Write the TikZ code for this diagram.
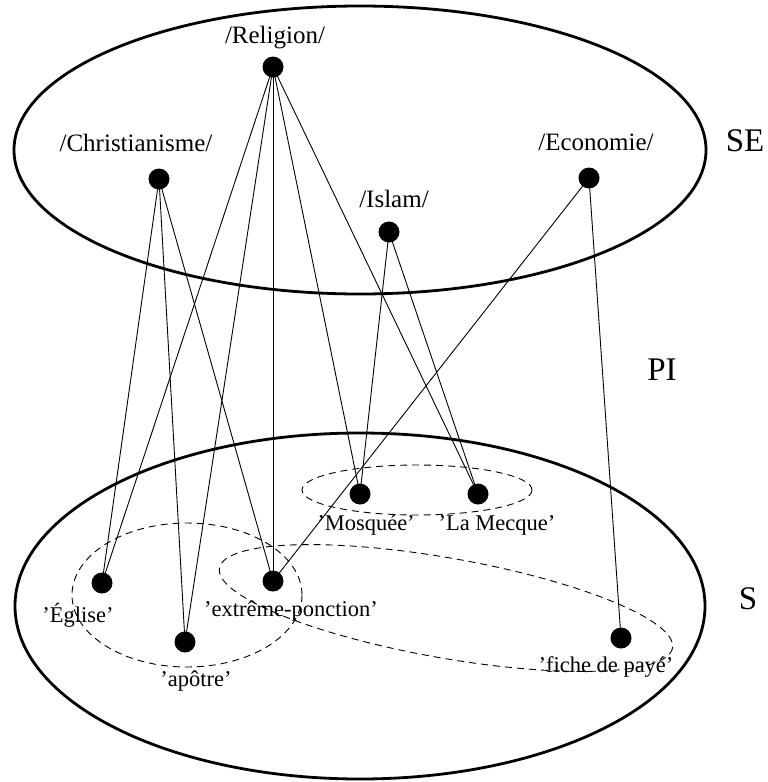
\documentclass[tikz,border=0pt]{standalone}
\usepackage{fontspec}
\setmainfont{Liberation Serif}
\begin{document}
\begin{tikzpicture}[x=1pt,y=-1pt,
  dot/.style={circle, fill=black, inner sep=0pt, minimum size=21pt},
  toplabel/.style={anchor=base, inner sep=0pt, font=\fontsize{25}{30}\selectfont},
  botlabel/.style={anchor=base, inner sep=0pt, font=\fontsize{22.5}{27}\selectfont},
  setname/.style={anchor=base, inner sep=0pt, font=\fontsize{33}{40}\selectfont},
  link/.style={line width=0.9pt},
  setborder/.style={line width=2.8pt},
  group/.style={line width=0.9pt, dash pattern=on 7pt off 5pt}]
\useasboundingbox (0,0) rectangle (768,782);

% the two sets
\draw[setborder] (360,150) ellipse [x radius=346, y radius=144];
\draw[setborder] (360,606) ellipse [x radius=345, y radius=173];

% dashed groupings in S
\draw[group] (187,595) ellipse [x radius=115, y radius=72];
\draw[group] (417,490) ellipse [x radius=115, y radius=25];
\draw[group, rotate around={-10:(446,608)}] (446,608) ellipse [x radius=230, y radius=50];

% concepts in SE
\node[dot] (rel) at (273,67) {};
\node[dot] (chr) at (159,179) {};
\node[dot] (isl) at (389,232) {};
\node[dot] (eco) at (589,178) {};

\node[toplabel] (lrel) at (275,43) {/Religion/};
\node[toplabel] (lchr) at (136,151) {/Christianisme/};
\node[toplabel] (lisl) at (394,207) {/Islam/};
\node[toplabel] (leco) at (596,150) {/Economie/};

% words in S
\node[dot] (mos) at (360,494) {};
\node[dot] (mec) at (478,494) {};
\node[dot] (egl) at (102,583) {};
\node[dot] (ext) at (273,581) {};
\node[dot] (apo) at (185,642) {};
\node[dot] (fic) at (621,638) {};

\node[botlabel] (lmos) at (366,530) {'Mosquée'};
\node[botlabel] (lmec) at (497,530) {'La Mecque'};
\node[botlabel] (legl) at (78,622) {'Église'};
\node[botlabel] (lext) at (291,616) {'extrême-ponction'};
\node[botlabel] (lapo) at (196,686) {'apôtre'};
\node[botlabel] (lfic) at (606,672) {'fiche de payé'};

% set names
\node[setname] (se) at (745,151) {SE};
\node[setname] (pi) at (662,380) {PI};
\node[setname] (s) at (748,609) {S};

% links between concepts and words
\draw[link] (rel.center) -- (egl.center);
\draw[link] (rel.center) -- (apo.center);
\draw[link] (rel.center) -- (ext.center);
\draw[link] (rel.center) -- (mos.center);
\draw[link] (rel.center) -- (mec.center);
\draw[link] (chr.center) -- (egl.center);
\draw[link] (chr.center) -- (apo.center);
\draw[link] (chr.center) -- (ext.center);
\draw[link] (isl.center) -- (mos.center);
\draw[link] (isl.center) -- (mec.center);
\draw[link] (eco.center) -- (ext.center);
\draw[link] (eco.center) -- (fic.center);
\end{tikzpicture}
\end{document}
